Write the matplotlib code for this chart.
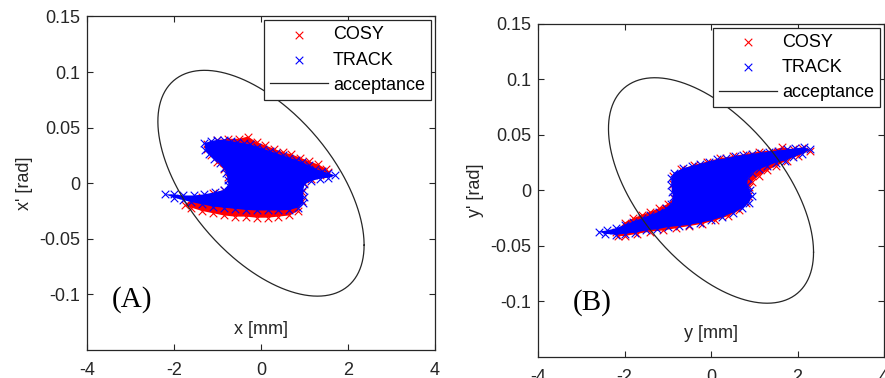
# phase space plots: COSY vs TRACK particle distributions with acceptance ellipse
import numpy as np
import matplotlib.pyplot as plt

plt.rcParams['font.family'] = ['Liberation Sans', 'DejaVu Sans']

# panel A (x plane): outline points of the particle clouds [x in mm, x' in rad]
cosy_a_x = [-1.25, -1.0, -0.75, -0.5, -0.3, -0.1, 0.1, 0.3, 0.5, 0.7, 0.9, 1.1, 1.3, 1.5, 1.55,
            1.35, 1.15, 1.0, 0.95, 0.95, 0.85, 0.65, 0.4, 0.15, -0.1, -0.35, -0.6, -0.85, -1.1,
            -1.35, -1.6, -1.75, -1.6, -1.35, -1.1, -0.85, -0.72, -0.76, -0.85, -1.0, -1.15, -1.25]
cosy_a_y = [0.035, 0.039, 0.040, 0.040, 0.042, 0.037, 0.034, 0.031, 0.028, 0.026, 0.023, 0.020,
            0.017, 0.013, 0.010, 0.007, 0.004, 0.000, -0.008, -0.016, -0.025, -0.029, -0.030,
            -0.031, -0.031, -0.030, -0.030, -0.029, -0.027, -0.025, -0.022, -0.020, -0.015,
            -0.012, -0.009, -0.006, -0.001, 0.006, 0.013, 0.019, 0.025, 0.031]
track_a_x = [-1.30, -1.15, -1.00, -0.85, -0.70, -0.55, -0.40, -0.25, -0.10, 0.05, 0.20, 0.35,
             0.50, 0.65, 0.80, 0.95, 1.10, 1.25, 1.40, 1.55, 1.70, 1.55, 1.35, 1.15, 1.00, 0.97,
             0.98, 0.97, 0.85, 0.65, 0.40, 0.15, -0.10, -0.35, -0.60, -0.85, -1.10, -1.35, -1.60,
             -1.80, -2.00, -2.20, -2.00, -1.80, -1.55, -1.30, -1.05, -0.85, -0.75, -0.76, -0.80,
             -0.85, -0.95, -1.08, -1.20, -1.28]
track_a_y = [0.036, 0.038, 0.039, 0.039, 0.038, 0.037, 0.036, 0.035, 0.033, 0.031, 0.029, 0.027,
             0.025, 0.023, 0.021, 0.019, 0.016, 0.013, 0.011, 0.009, 0.007, 0.005, 0.004, 0.002,
             -0.001, -0.006, -0.012, -0.018, -0.022, -0.024, -0.0245, -0.0245, -0.0245, -0.024,
             -0.023, -0.022, -0.021, -0.019, -0.017, -0.015, -0.013, -0.010, -0.010, -0.011,
             -0.011, -0.010, -0.008, -0.006, -0.002, 0.003, 0.009, 0.014, 0.018, 0.022, 0.026,
             0.030]

# panel B (y plane)
cosy_b_x = [-2.2, -2.0, -1.8, -1.6, -1.4, -1.2, -1.0, -0.85, -0.83, -0.88, -0.88, -0.7, -0.4,
            -0.1, 0.2, 0.5, 0.8, 1.1, 1.4, 1.65, 1.9, 2.1, 2.28, 2.0, 1.75, 1.5, 1.3, 1.1, 0.95,
            0.88, 0.85, 0.85, 0.80, 0.65, 0.40, 0.1, -0.2, -0.5, -0.8, -1.1, -1.4, -1.7, -2.0,
            -2.15]
cosy_b_y = [-0.037, -0.029, -0.025, -0.022, -0.019, -0.016, -0.012, -0.007, -0.002, 0.006,
            0.013, 0.019, 0.023, 0.026, 0.029, 0.031, 0.033, 0.035, 0.036, 0.039, 0.037, 0.038,
            0.036, 0.031, 0.027, 0.022, 0.018, 0.013, 0.008, 0.003, -0.002, -0.005, -0.011,
            -0.018, -0.023, -0.027, -0.030, -0.032, -0.034, -0.036, -0.037, -0.039, -0.041,
            -0.041]
track_b_x = [-2.6, -2.4, -2.2, -2.0, -1.8, -1.6, -1.4, -1.2, -1.05, -0.92, -0.88, -0.90, -0.92,
             -0.92, -0.85, -0.65, -0.45, -0.25, -0.05, 0.15, 0.35, 0.55, 0.75, 0.95, 1.15, 1.35,
             1.55, 1.75, 1.95, 2.15, 2.28, 2.1, 1.9, 1.7, 1.5, 1.3, 1.1, 0.95, 0.85, 0.84, 0.90,
             0.94, 0.88, 0.72, 0.50, 0.25, 0.0, -0.25, -0.5, -0.75, -1.0, -1.25, -1.5, -1.75,
             -2.0, -2.2, -2.45]
track_b_y = [-0.037, -0.036, -0.034, -0.031, -0.028, -0.025, -0.022, -0.019, -0.016, -0.012,
             -0.006, -0.001, 0.005, 0.011, 0.016, 0.020, 0.022, 0.024, 0.026, 0.028, 0.029,
             0.031, 0.032, 0.033, 0.034, 0.035, 0.036, 0.037, 0.038, 0.039, 0.037, 0.033, 0.030,
             0.027, 0.025, 0.022, 0.019, 0.016, 0.011, 0.005, 0.000, -0.005, -0.011, -0.016,
             -0.020, -0.024, -0.027, -0.029, -0.031, -0.032, -0.033, -0.035, -0.036, -0.038,
             -0.039, -0.040, -0.039]

# acceptance ellipse (Twiss parameters): emittance [mm rad], alpha, beta [mm/rad]
acc_emit = 0.2014
acc_alpha = 0.655
acc_beta = 27.9

xticks = [-4, -2, 0, 2, 4]
yticks = [-0.1, -0.05, 0, 0.05, 0.1, 0.15]
ytick_labels = ['-0.1', '-0.05', '0', '0.05', '0.1', '0.15']
xtick_labels = ['-4', '-2', '0', '2', '4']


def acceptance(emit, alpha, beta):
    """Return the acceptance ellipse outline from the Twiss parameters."""
    t = np.linspace(0, 2 * np.pi, 400)
    x = np.sqrt(emit * beta) * np.cos(t)
    xp = -np.sqrt(emit / beta) * (alpha * np.cos(t) + np.sin(t))
    return x, xp


def draw_panel(ax, cx, cy, tx, ty, xlab, ylab, tag, tag_y, lab_y):
    ax.fill(cx, cy, color='#ff0000', lw=0, zorder=2)
    ax.scatter(cx, cy, marker='x', s=30, color='#ff0000', linewidths=0.8, zorder=2,
               label='COSY')
    ax.fill(tx, ty, color='#0000ff', lw=0, zorder=3)
    ax.scatter(tx, ty, marker='x', s=30, color='#0000ff', linewidths=0.8, zorder=3,
               label='TRACK')
    ex, ey = acceptance(acc_emit, acc_alpha, acc_beta)
    ax.plot(ex, ey, color='#262626', lw=0.9, zorder=4, label='acceptance')

    ax.set_xlim(-4, 4)
    ax.set_ylim(-0.15, 0.15)
    ax.set_xticks(xticks)
    ax.set_xticklabels(xtick_labels)
    ax.set_yticks(yticks)
    ax.set_yticklabels(ytick_labels)
    ax.tick_params(direction='in', length=4, width=0.8, top=True, right=True,
                   labelsize=13, colors='#262626', pad=5)
    ax.tick_params(axis='x', pad=9)
    for s in ax.spines.values():
        s.set_color('#262626')
        s.set_linewidth(0.9)

    ax.set_ylabel(ylab, fontsize=13, color='#262626', labelpad=4)
    ax.text(0.5, lab_y, xlab, transform=ax.transAxes, ha='center', va='center',
            fontsize=13, color='#262626')
    ax.text(tag[1], tag_y, tag[0], transform=ax.transAxes, ha='center', va='center',
            fontsize=21, family='Liberation Serif', color='black')

    leg = ax.legend(loc='upper right', fontsize=13, fancybox=False, framealpha=1,
                    edgecolor='#262626', borderaxespad=0.2, handlelength=3.2,
                    handletextpad=0.3, labelspacing=0.45, borderpad=0.35)
    leg.get_frame().set_linewidth(0.9)
    leg.set_zorder(5)


fig = plt.figure(figsize=(8.85, 3.78), dpi=100)
ax1 = fig.add_axes([0.0983, 0.0741, 0.3932, 0.8823])
ax2 = fig.add_axes([0.6079, 0.0556, 0.3910, 0.8810])

draw_panel(ax1, cosy_a_x, cosy_a_y, track_a_x, track_a_y, 'x [mm]', "x' [rad]",
           ('(A)', 0.13), 0.15, 0.06)
draw_panel(ax2, cosy_b_x, cosy_b_y, track_b_x, track_b_y, 'y [mm]', "y' [rad]",
           ('(B)', 0.156), 0.165, 0.072)

fig.savefig('out.png', dpi=100)
